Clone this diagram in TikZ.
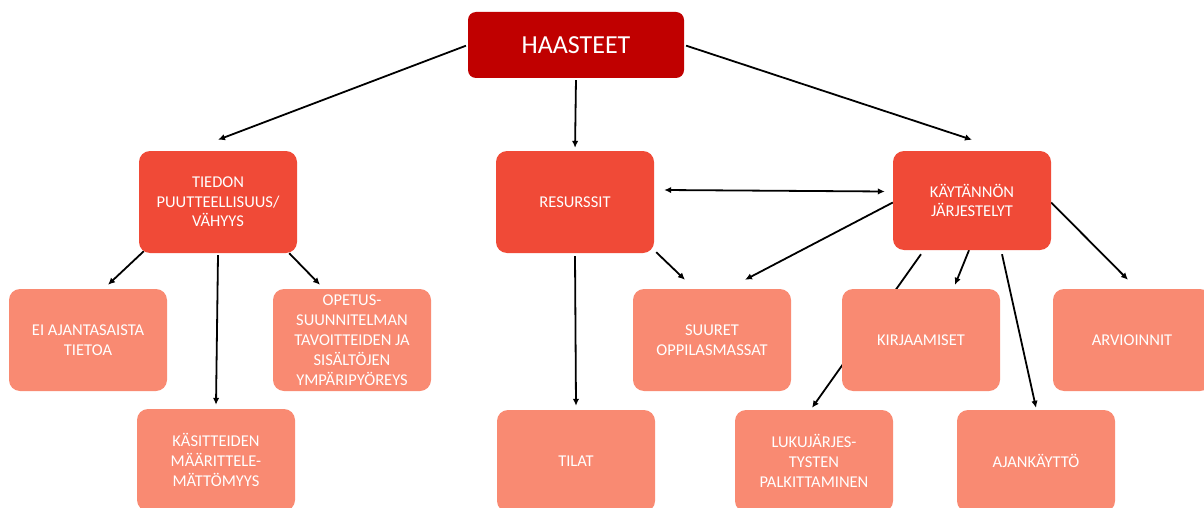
\documentclass[tikz,border=0pt]{standalone}
\usepackage{fontspec}
\setmainfont{Carlito}
\usetikzlibrary{arrows.meta,backgrounds}
\definecolor{darkred}{HTML}{C00000}
\definecolor{midred}{HTML}{F04A37}
\definecolor{salmon}{HTML}{F98A72}
\tikzset{
  box/.style={rectangle,rounded corners=11pt,minimum width=158pt,minimum height=102pt,inner sep=0pt,
    text=white,align=center,font=\fontsize{16.5}{19.5}\selectfont},
  topbox/.style={box,fill=darkred,minimum width=216pt,minimum height=66pt,rounded corners=8pt,font=\fontsize{26}{30}\selectfont},
  midbox/.style={box,fill=midred},
  lowbox/.style={box,fill=salmon,font=\fontsize{16.5}{20}\selectfont},
  conn/.style={line width=1.8pt,-{Latex[length=7pt,width=6.5pt]}},
  biconn/.style={line width=1.8pt,{Latex[length=7pt,width=6.5pt]}-{Latex[length=7pt,width=6.5pt]}}
}
\begin{document}
\begin{tikzpicture}[x=1pt,y=-1pt]
\useasboundingbox (0,0) rectangle (1204,508);
\clip (0,0) rectangle (1204,508);
\node[topbox] (haasteet) at (576,45) {HAASTEET};
\node[midbox] (tiedon) at (218,202) {TIEDON\\PUUTTEELLISUUS/\\VÄHYYS};
\node[midbox] (resurssit) at (575,202) {RESURSSIT};
\node[midbox,minimum height=99pt] (kaytannon) at (972,200.5) {KÄYTÄNNÖN\\JÄRJESTELYT};
\node[lowbox] (ei) at (88,340) {EI AJANTASAISTA\\TIETOA};
\node[lowbox] (opetus) at (352,340) {OPETUS-\\SUUNNITELMAN\\TAVOITTEIDEN JA\\SISÄLTÖJEN\\YMPÄRIPYÖREYS};
\node[lowbox] (suuret) at (712,340) {SUURET\\OPPILASMASSAT};
\node[lowbox] (kirjaamiset) at (921,340) {KIRJAAMISET};
\node[lowbox] (arvioinnit) at (1132,340) {ARVIOINNIT};
\node[lowbox] (kasitteiden) at (216,460) {KÄSITTEIDEN\\MÄÄRITTELE-\\MÄTTÖMYYS};
\node[lowbox] (tilat) at (576,461) {TILAT};
\node[lowbox] (lukujarjes) at (814,461) {LUKUJÄRJES-\\TYSTEN\\PALKITTAMINEN};
\node[lowbox] (ajankaytto) at (1036,461) {AJANKÄYTTÖ};
\begin{scope}[on background layer]
\draw[conn,shorten <=2pt] (haasteet.west) -- ([yshift=11pt]tiedon.north);
\draw[conn,shorten <=2pt,shorten >=3pt] (haasteet.south) -- (resurssit.north);
\draw[conn,shorten <=2pt] (haasteet.east) -- ([yshift=11pt]kaytannon.north);
\draw[biconn] ([xshift=10pt,yshift=12pt]resurssit.east) -- ([xshift=-8pt,yshift=9pt]kaytannon.west);
\draw[conn] ([xshift=5pt,yshift=2pt]tiedon.south west) -- ([xshift=20pt,yshift=4pt]ei.north);
\draw[conn] ([yshift=-2pt]tiedon.south) -- ([yshift=4pt]kasitteiden.north);
\draw[conn] ([xshift=-8pt]tiedon.south east) -- ([xshift=-32pt,yshift=4pt]opetus.north);
\draw[conn] ([yshift=-3pt]resurssit.south) -- ([yshift=4pt]tilat.north);
\draw[conn] ([xshift=2pt,yshift=1pt]resurssit.south east) -- ([xshift=-27pt,yshift=9pt]suuret.north);
\draw[conn] ([yshift=-2pt]kaytannon.west) -- ([xshift=33pt,yshift=9pt]suuret.north);
\draw[conn] ([xshift=-3pt]kaytannon.south) -- ([xshift=34pt,yshift=4pt]kirjaamiset.north);
\draw[conn] ([xshift=-51pt,yshift=-4pt]kaytannon.south) -- ([xshift=-2pt,yshift=2pt]lukujarjes.north);
\draw[conn] ([xshift=30pt,yshift=-4pt]kaytannon.south) -- ([yshift=2pt]ajankaytto.north);
\draw[conn] ([yshift=-2pt]kaytannon.east) -- ([xshift=-4pt,yshift=9pt]arvioinnit.north);
\end{scope}
\end{tikzpicture}
\end{document}
